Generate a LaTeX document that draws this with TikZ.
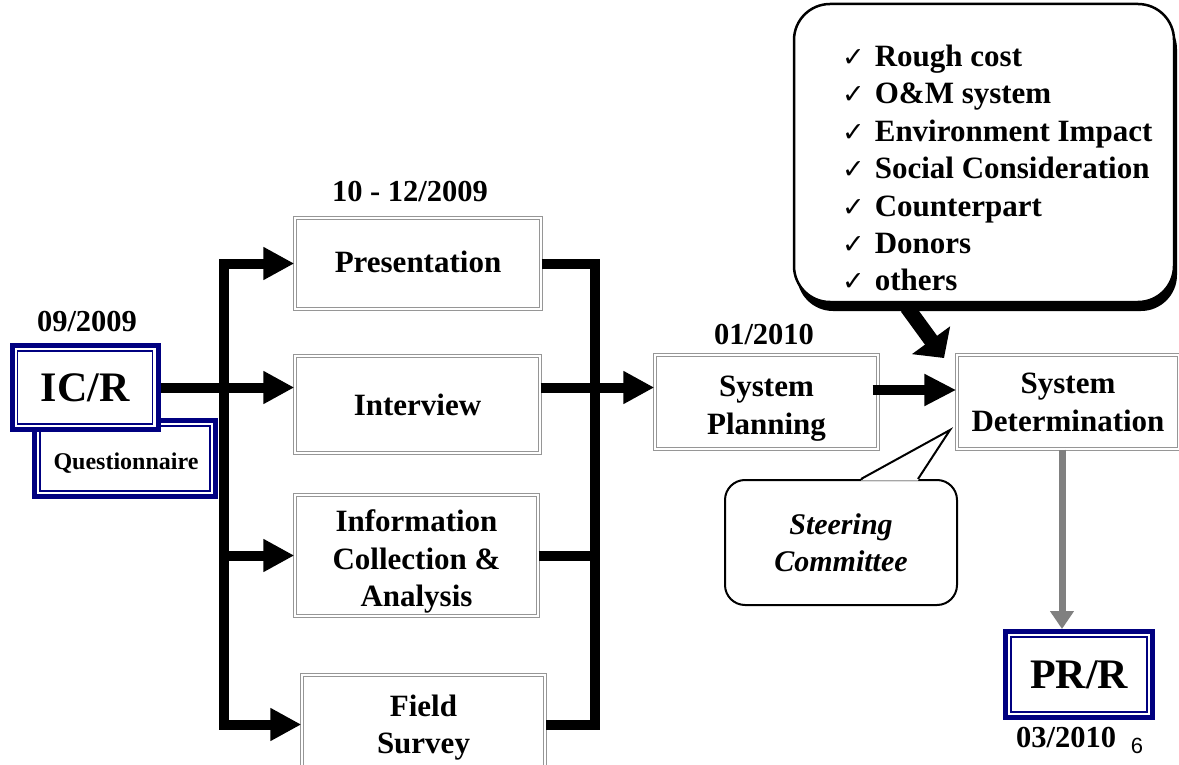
\documentclass[tikz,border=0pt]{standalone}
\usepackage{fontspec}
\setmainfont{Liberation Serif}
\newfontfamily\symfont{DejaVu Sans}
\newfontfamily\arialfont{Liberation Sans}
\usetikzlibrary{arrows.meta,shadows}
\definecolor{navyb}{RGB}{0,0,128}
\definecolor{framegray}{RGB}{150,150,150}
\definecolor{grayarr}{RGB}{128,128,128}
\newcommand{\ckm}{{\symfont\fontsize{27}{27}\selectfont ✓}\hspace{10pt}}
\newcommand{\lowr}[2]{\raisebox{-#1}[\height][\depth]{\begin{tabular}{@{}c@{}}#2\end{tabular}}}
\tikzset{
  graybox/.style={draw=framegray, line width=1.4pt, double=white, double distance=2pt,
    fill=white, inner sep=0pt, font=\bfseries\fontsize{31}{37.5}\selectfont},
  bluebox/.style={draw=navyb, line width=5pt, fill=white, inner sep=0pt, align=center,
    path picture={\draw[navyb,line width=1.5pt]
      ([xshift=5.5pt,yshift=-5.5pt]path picture bounding box.north west) rectangle
      ([xshift=-5.5pt,yshift=5.5pt]path picture bounding box.south east);}},
  datelbl/.style={font=\bfseries\fontsize{30.5}{34}\selectfont, inner sep=0pt},
  conn/.style={line width=10pt, draw=black, line join=miter},
  arr/.style={-{Triangle[length=31pt,width=31pt]}},
}
\begin{document}
\begin{tikzpicture}[x=1pt,y=-1pt]
\useasboundingbox (0,0) rectangle (1179,765);
\clip (0,0) rectangle (1179,765);

% callout with list
\node[draw=black, line width=2.5pt, fill=white, rounded corners=36pt,
  minimum width=380pt, minimum height=298pt,
  drop shadow={shadow xshift=3pt, shadow yshift=-9pt, fill=black, opacity=1}] (note) at (984,153) {};
\node[anchor=west, align=left, inner sep=0pt, font=\bfseries\fontsize{31}{37.4}\selectfont] (list) at (842,168)
  {\ckm Rough cost\\ \ckm O\&M system\\ \ckm Environment Impact\\ \ckm Social Consideration\\
   \ckm Counterpart\\ \ckm Donors\\ \ckm others};

% boxes
\node[graybox, minimum width=246pt, minimum height=91pt] (pres) at (418,263.5) {\lowr{1pt}{Presentation}};
\node[graybox, minimum width=245pt, minimum height=97pt] (intv) at (417.5,404.5) {Interview};
\node[graybox, minimum width=243pt, minimum height=121pt] (info) at (416.5,555.5) {\lowr{6pt}{Information\\Collection \&\\Analysis}};
\node[graybox, minimum width=243pt, minimum height=99pt] (field) at (423.5,724.5) {\lowr{3pt}{Field\\Survey}};
\node[graybox, minimum width=223pt, minimum height=94pt] (sp) at (766.5,402) {\lowr{6pt}{System\\Planning}};
\node[graybox, minimum width=222pt, minimum height=94pt] (sd) at (1068,402) {\lowr{3pt}{System\\Determination}};

\node[bluebox, minimum width=181pt, minimum height=76pt] (quest) at (125,458.5) {};
\node[font=\bfseries\fontsize{24}{28}\selectfont, inner sep=0pt] (qtext) at (126,463) {Questionnaire};
\node[bluebox, minimum width=146pt, minimum height=84pt, font=\bfseries\fontsize{42}{48}\selectfont] (icr) at (85,387.5) {IC/R};
\node[bluebox, minimum width=147pt, minimum height=86pt, font=\bfseries\fontsize{42}{48}\selectfont] (prr) at (1079,674.5) {PR/R};

% dates
\node[datelbl] (d1) at (87,322) {09/2009};
\node[datelbl] (d2) at (410,192) {10 - 12/2009};
\node[datelbl] (d3) at (764,335) {01/2010};
\node[datelbl] (d4) at (1066,738) {03/2010};
\node[font=\arialfont\fontsize{22}{26}\selectfont, inner sep=0pt] (pg) at (1137,746) {6};

% steering committee callout
\node[draw=black, line width=2pt, fill=white, rounded corners=20pt, minimum width=232pt, minimum height=125pt,
  align=center, font=\bfseries\itshape\fontsize{30}{37.5}\selectfont] (steer) at (841,542.5) {Steering\\Committee};
\coordinate (stip) at (950,430);
\fill[white] ([xshift=20pt,yshift=-1.5pt]steer.north) -- (stip) -- ([xshift=77pt,yshift=-1.5pt]steer.north) -- cycle;
\draw[line width=2pt, line join=miter] ([xshift=20pt]steer.north) -- (stip) -- ([xshift=77pt]steer.north);

% connectors
\coordinate (lb) at (224,0);
\coordinate (rb) at (595,0);
\draw[conn, {Triangle[length=31pt,width=31pt]}-{Triangle[length=31pt,width=31pt]}]
  (pres.west) -- (lb |- pres.west) -- (lb |- field.west) -- (field.west);
\draw[conn, arr] (lb |- info.west) -- (info.west);
\draw[conn, arr] (icr.east) -- (icr.east -| intv.west);
\draw[conn] (pres.east) -- (rb |- pres.east) -- (rb |- field.east) -- (field.east);
\draw[conn] (info.east) -- (rb |- info.east);
\draw[conn, arr] (intv.east |- icr.east) -- (sp.west |- icr.east);
\draw[conn, -{Triangle[length=32pt,width=30pt]}] ([xshift=-6pt,yshift=12pt]sp.east) -- ([yshift=12pt]sd.west);
\draw[draw=grayarr, line width=7pt, -{Triangle[length=18pt,width=23pt]}]
  ([xshift=-6pt]sd.south) -- ([xshift=-6pt]sd.south |- prr.north);
\coordinate (ctip) at (944,358);
\draw[line width=15pt, -{Triangle[length=22pt,width=46pt]}] ([xshift=-77pt,yshift=-4pt]note.south) -- (ctip);
\end{tikzpicture}
\end{document}
